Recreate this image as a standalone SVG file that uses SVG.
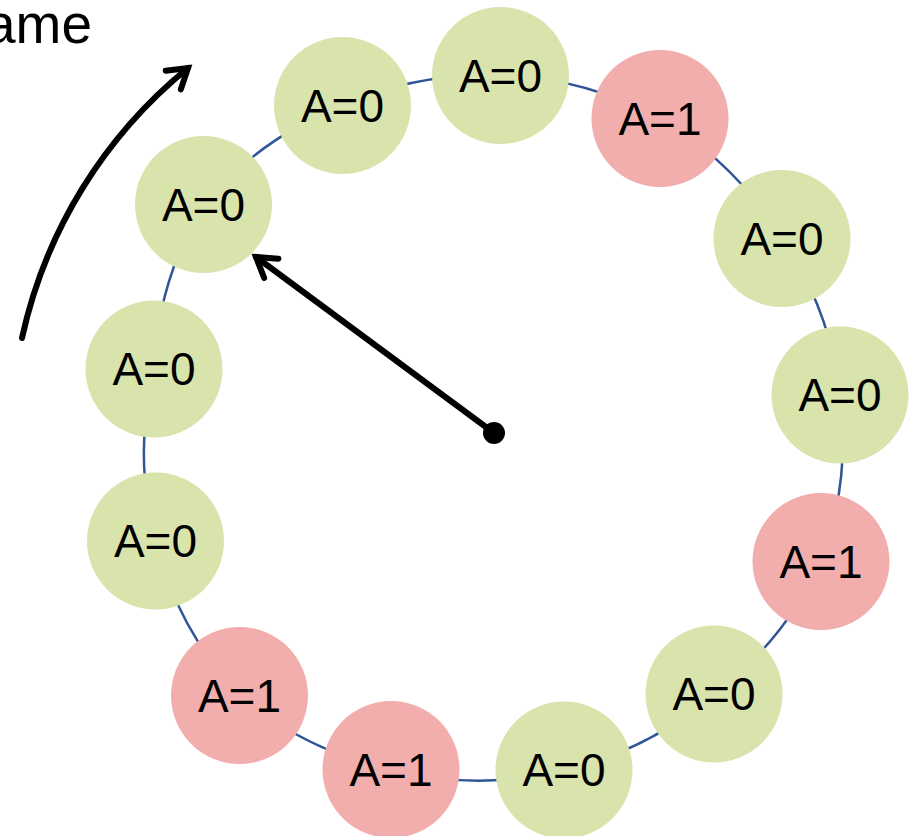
<svg xmlns="http://www.w3.org/2000/svg" width="920" height="836" viewBox="0 0 920 836">
<style>
.n0{fill:#D9E3AC}
.n1{fill:#F2AEAD}
.lbl{font-family:"Liberation Sans",Arial,sans-serif;font-size:46px;fill:#000;text-anchor:middle;dominant-baseline:central}
.ring{fill:none;stroke:#2F5597;stroke-width:2.5}
.arr{fill:none;stroke:#000;stroke-width:6;stroke-linecap:round}
</style>
<defs>
<marker id="head" markerUnits="userSpaceOnUse" markerWidth="32" markerHeight="32" viewBox="0 0 32 32" refX="26" refY="16" orient="auto">
<path d="M7,4 L26,16 L7,28" fill="none" stroke="#000" stroke-width="6" stroke-linecap="round" stroke-linejoin="miter"/>
</marker>
</defs>
<rect width="920" height="836" fill="#fff"/>
<text x="92" y="43" style="font-family:'Liberation Sans',Arial,sans-serif;font-size:55px;fill:#000;text-anchor:end">ame</text>
<g id="connectors">
<path class="ring" d="M500.5,75.5 A350,350 0 0 1 660,118.5 A350,350 0 0 1 782,238.5 A350,350 0 0 1 840,395 A350,350 0 0 1 821,561.5 A350,350 0 0 1 714,694 A350,350 0 0 1 564,770 A350,350 0 0 1 391,769.5 A350,350 0 0 1 239.5,695.5 A350,350 0 0 1 155.5,541 A350,350 0 0 1 154,369 A350,350 0 0 1 203.5,204.5 A350,350 0 0 1 342.5,105.5 A350,350 0 0 1 500.5,75.5 Z"/>
<path class="arr" d="M22,338 A480,480 0 0 1 188,68" marker-end="url(#head)"/>
<line class="arr" x1="494" y1="433" x2="256" y2="257" marker-end="url(#head)"/>
<circle cx="494" cy="433" r="11" fill="#000"/>
</g>
<g id="n1"><circle class="n0" cx="500.5" cy="75.5" r="68.5"/><text class="lbl" x="500.5" y="75.5">A=0</text></g>
<g id="n2"><circle class="n1" cx="660" cy="118.5" r="68.5"/><text class="lbl" x="660" y="118.5">A=1</text></g>
<g id="n3"><circle class="n0" cx="782" cy="238.5" r="68.5"/><text class="lbl" x="782" y="238.5">A=0</text></g>
<g id="n4"><circle class="n0" cx="840" cy="395" r="68.5"/><text class="lbl" x="840" y="395">A=0</text></g>
<g id="n5"><circle class="n1" cx="821" cy="561.5" r="68.5"/><text class="lbl" x="821" y="561.5">A=1</text></g>
<g id="n6"><circle class="n0" cx="714" cy="694" r="68.5"/><text class="lbl" x="714" y="694">A=0</text></g>
<g id="n7"><circle class="n0" cx="564" cy="770" r="68.5"/><text class="lbl" x="564" y="770">A=0</text></g>
<g id="n8"><circle class="n1" cx="391" cy="769.5" r="68.5"/><text class="lbl" x="391" y="769.5">A=1</text></g>
<g id="n9"><circle class="n1" cx="239.5" cy="695.5" r="68.5"/><text class="lbl" x="239.5" y="695.5">A=1</text></g>
<g id="n10"><circle class="n0" cx="155.5" cy="541" r="68.5"/><text class="lbl" x="155.5" y="541">A=0</text></g>
<g id="n11"><circle class="n0" cx="154" cy="369" r="68.5"/><text class="lbl" x="154" y="369">A=0</text></g>
<g id="n12"><circle class="n0" cx="203.5" cy="204.5" r="68.5"/><text class="lbl" x="203.5" y="204.5">A=0</text></g>
<g id="n13"><circle class="n0" cx="342.5" cy="105.5" r="68.5"/><text class="lbl" x="342.5" y="105.5">A=0</text></g>
</svg>
